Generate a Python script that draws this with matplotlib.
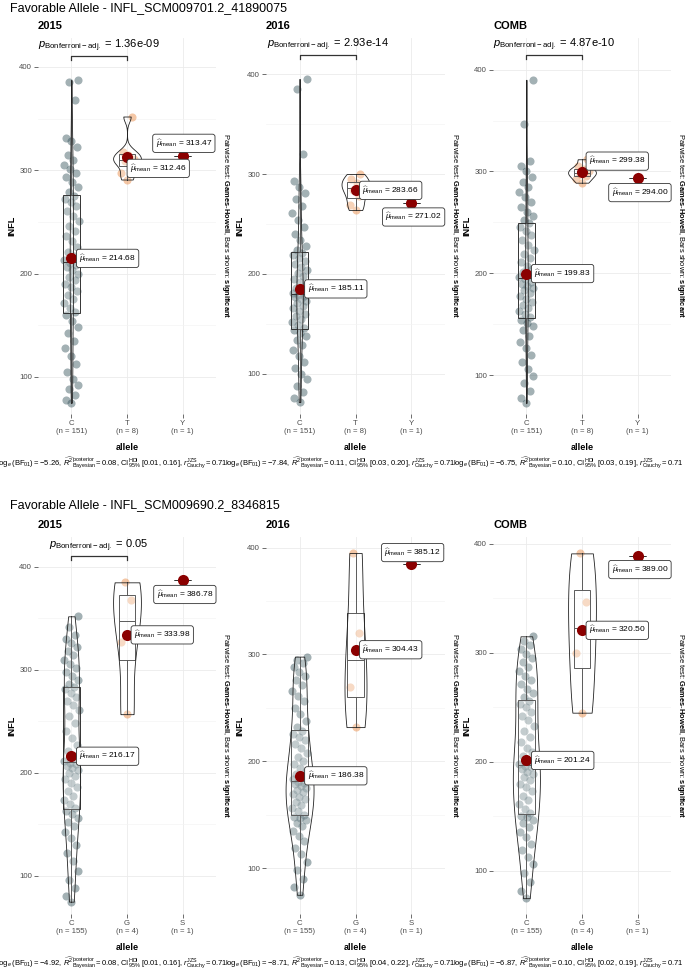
import numpy as np
import matplotlib
matplotlib.use("Agg")
import matplotlib.pyplot as plt

plt.rcParams['font.family'] = ['Liberation Sans', 'DejaVu Sans']
plt.rcParams['mathtext.fontset'] = 'custom'
plt.rcParams['mathtext.rm'] = 'Liberation Sans'
plt.rcParams['mathtext.it'] = 'Liberation Sans:italic'
plt.rcParams['mathtext.bf'] = 'Liberation Sans:bold'
plt.rcParams['mathtext.sf'] = 'Liberation Sans'

# ---------------- DATA ----------------
years = ["2015", "2016", "COMB"]

# marker 1
m1_title = "Favorable Allele - INFL_SCM009701.2_41890075"
m1_alleles = ["C", "T", "Y"]
m1_n = [151, 8, 1]
m1_2015_C = [75, 78, 82, 88, 92, 98, 105, 112, 120, 128, 135, 142, 148, 154, 160,
             163, 167, 171, 175, 179, 183, 187, 190, 194, 197, 200, 203, 206, 208, 210,
             213, 217, 221, 226, 231, 236, 241, 246, 251, 256, 261, 265, 269, 272, 275,
             279, 284, 289, 293, 297, 301, 305, 310, 315, 322, 328, 331, 368, 385, 387]
m1_2015_T = [291, 297, 306, 309, 311, 315, 318, 352]
m1_2015_Y = [313.47]
m1_2016_C = [72, 76, 82, 88, 95, 100, 106, 112, 118, 124, 129, 134, 138, 141, 144,
             146, 149, 152, 155, 158, 160, 163, 166, 168, 171, 173, 175, 177, 178, 179,
             181, 183, 186, 189, 192, 195, 198, 201, 204, 207, 210, 213, 216, 219, 221,
             224, 228, 234, 240, 247, 254, 261, 268, 275, 281, 287, 293, 320, 385, 395]
m1_2016_T = [264, 269, 278, 284, 288, 291, 295, 300]
m1_2016_Y = [271.02]
m1_comb_C = [73, 78, 85, 92, 99, 106, 113, 120, 127, 133, 139, 144, 148, 151, 154,
             157, 160, 163, 166, 169, 172, 175, 178, 181, 184, 186, 188, 190, 192, 194,
             196, 198, 201, 204, 207, 211, 215, 219, 223, 228, 233, 238, 242, 246, 249,
             252, 256, 260, 265, 270, 275, 280, 285, 290, 295, 300, 305, 310, 347, 390]
m1_comb_T = [289, 293, 296, 298, 300, 302, 305, 312]
m1_comb_Y = [294.00]
m1_means = [[214.68, 312.46, 313.47], [185.11, 283.66, 271.02], [199.83, 299.38, 294.00]]
m1_p = ["1.36e-09", "2.93e-14", "4.87e-10"]
m1_logbf = [-5.26, -7.84, -6.75]
m1_r2 = [0.08, 0.11, 0.10]
m1_ci = [(0.01, 0.16), (0.03, 0.20), (0.03, 0.19)]
m1_rcauchy = [0.71, 0.71, 0.71]

# marker 2
m2_title = "Favorable Allele - INFL_SCM009690.2_8346815"
m2_alleles = ["C", "G", "S"]
m2_n = [155, 4, 1]
m2_2015_C = [75, 80, 88, 96, 105, 114, 122, 130, 137, 143, 148, 152, 156, 160, 163,
             166, 170, 174, 178, 182, 186, 190, 194, 197, 200, 203, 205, 207, 209, 210,
             212, 216, 221, 227, 234, 241, 248, 255, 261, 266, 270, 274, 278, 281, 283,
             286, 290, 294, 298, 302, 306, 310, 314, 318, 322, 326, 330, 334, 342, 352]
m2_2015_G = [257, 327, 368, 385]
m2_2015_S = [386.78]
m2_2016_C = [75, 82, 90, 98, 106, 113, 119, 125, 130, 135, 139, 142, 145, 147, 148,
             150, 153, 156, 159, 162, 165, 167, 169, 171, 173, 175, 177, 179, 180, 181,
             183, 185, 188, 191, 194, 197, 200, 204, 208, 212, 216, 220, 223, 226, 228,
             232, 238, 244, 250, 256, 261, 266, 271, 276, 280, 284, 288, 292, 295, 298]
m2_2016_G = [232, 270, 320, 395]
m2_2016_S = [385.12]
m2_comb_C = [75, 82, 90, 98, 106, 113, 119, 125, 131, 136, 140, 144, 147, 149, 150,
             153, 157, 161, 165, 169, 173, 177, 180, 183, 186, 189, 191, 193, 195, 196,
             198, 201, 205, 209, 213, 218, 223, 228, 233, 238, 242, 246, 250, 253, 256,
             259, 263, 267, 271, 275, 279, 283, 287, 291, 295, 299, 303, 307, 311, 315]
m2_comb_G = [245, 300, 346, 391]
m2_comb_S = [389.00]
m2_means = [[216.17, 333.98, 386.78], [186.38, 304.43, 385.12], [201.24, 320.50, 389.00]]
m2_p = ["0.05", None, None]
m2_logbf = [-4.92, -8.71, -6.87]
m2_r2 = [0.08, 0.13, 0.10]
m2_ci = [(0.01, 0.16), (0.04, 0.22), (0.02, 0.19)]
m2_rcauchy = [0.71, 0.71, 0.71]

# ---------------- LAYOUT ----------------
W, H = 685, 969
fig = plt.figure(figsize=(W / 100, H / 100), dpi=100)

col_x = [(38, 216), (266, 445), (493, 671)]
rows = [(38, 414), (537, 914)]
ylims = [[(64, 428), (60, 436), (62, 431)],
         [(63, 429), (57, 410), (60.5, 406)]]
# label offsets in pixels (from mean dot to label text)
lab_offs = [[[(8, 0), (3, -11), (-27, 13)], [(8, 0), (7, 0), (-26, -14)], [(8, 0), (7, 11), (-26, -15)]],
            [[(8, 0), (7, 0), (-26, -14)], [(8, 0), (7, 0), (-27, 11)], [(8, 0), (7, 0), (-26, -14)]]]
pt_cols = ['#34525a', '#e8843a', '#3a8a5a']
edge = '#333333'


def pix_axes(x0, x1, y0, y1):
    return fig.add_axes([x0 / W, 1 - y1 / H, (x1 - x0) / W, (y1 - y0) / H])


def kde(v, grid):
    v = np.asarray(v, float)
    sd = v.std(ddof=1)
    iqr = np.subtract(*np.percentile(v, [75, 25]))
    s = min(sd, iqr / 1.34) if iqr > 0 else sd
    bw = 0.9 * s * len(v) ** -0.2
    z = (grid[:, None] - v[None, :]) / bw
    return np.exp(-0.5 * z ** 2).sum(1) / (len(v) * bw * np.sqrt(2 * np.pi))


def draw_panel(ax, groups, alleles, ns, means, ylim, pval, offs, name, hpx, wpx):
    pos = np.arange(1, len(groups) + 1)
    ax.set_xlim(0.4, 3.6)
    ax.set_ylim(*ylim)
    ppu = hpx / (ylim[1] - ylim[0])
    for s in ax.spines.values():
        s.set_visible(False)
    ax.set_yticks([100, 200, 300, 400])
    ax.set_yticks([150, 250, 350], minor=True)
    ax.grid(True, which='major', color='#ebebeb', lw=0.6)
    ax.grid(True, which='minor', axis='y', color='#f3f3f3', lw=0.45)
    ax.set_axisbelow(True)
    ax.tick_params(which='major', length=2.75, width=0.5, color=edge,
                   labelsize=5.6, labelcolor='#4d4d4d', pad=1.5)
    ax.tick_params(which='minor', length=0)
    ax.set_xticks(pos)
    ax.set_xticklabels([f"{a}\n(n = {n})" for a, n in zip(alleles, ns)], linespacing=1.25)

    # jittered points
    for i, g in enumerate(groups):
        k = np.arange(len(g))
        jit = ((k * 0.618034 + 0.5) % 1 - 0.5) * 0.27
        ax.scatter(pos[i] + jit, g, s=34, color=pt_cols[i], alpha=0.45, lw=0, zorder=2)

    # boxes
    ax.boxplot(groups, positions=pos, widths=0.3, whis=1.5, showfliers=False,
               showcaps=False, patch_artist=True, manage_ticks=False,
               boxprops=dict(facecolor=(1, 1, 1, 0.2), edgecolor=edge, lw=0.7),
               medianprops=dict(color=edge, lw=0.7),
               whiskerprops=dict(color=edge, lw=0.7), zorder=3)

    # violins (area-scaled, trimmed)
    vio = []
    for i, g in enumerate(groups):
        if len(g) > 1:
            grid = np.linspace(min(g), max(g), 256)
            vio.append((pos[i], grid, kde(g, grid)))
    mx = max(d.max() for _, _, d in vio)
    for p, grid, d in vio:
        hw = d / mx * 0.25
        ax.fill_betweenx(grid, p - hw, p + hw, facecolor=(1, 1, 1, 0.2),
                         edgecolor='#222222', lw=0.6, zorder=4)

    # means + labels
    ax.scatter(pos, means, s=64, color='#8b0000', lw=0, zorder=5)
    for i, m in enumerate(means):
        ax.annotate(r"$\widehat{\mu}_{\mathrm{mean}}$ = " + f"{m:.2f}", xy=(pos[i], m),
                    xytext=offs[i], textcoords='offset pixels', ha='left', va='center',
                    fontsize=6, zorder=6,
                    bbox=dict(boxstyle='round,pad=0.35,rounding_size=0.3', fc='white',
                              ec=edge, lw=0.6))

    # significance bracket
    if pval:
        yb = max(max(g) for g in groups) + 24
        t = 4 / ppu
        ax.plot([1, 1, 2, 2], [yb - t, yb, yb, yb - t], color=edge, lw=0.9, zorder=6)
        ax.annotate(r"$p_{\mathrm{Bonferroni-adj.}}$ = " + pval, xy=(1.5, yb),
                    xytext=(0, 2), textcoords='offset pixels', ha='center', va='bottom',
                    fontsize=8)

    ax.text(0, 1 + 12 / hpx, name, transform=ax.transAxes, ha='left', va='center',
            fontsize=8, fontweight='bold')
    ax.text(-26 / wpx, 0.5, "INFL", transform=ax.transAxes, rotation=90, ha='center',
            va='center', fontsize=6.6, fontweight='bold')
    ax.text(0.5, -33 / hpx, "allele", transform=ax.transAxes, ha='center', va='center',
            fontsize=6.6, fontweight='bold')
    ax.text(1 + 4 / wpx, 0.5,
            r"Pairwise test: $\mathbf{Games}$-$\mathbf{Howell}$, Bars shown: $\mathbf{significant}$",
            transform=ax.transAxes, rotation=270, ha='left', va='center', fontsize=5.4)


def caption(bf, r2, ci, rc):
    return (r"$\log_e(\mathrm{BF}_{01}) = %.2f$, "
            r"$\widehat{R^2}_{\mathrm{Bayesian}}^{\mathrm{posterior}} = %.2f$, "
            r"$\mathrm{CI}_{95\%%}^{\mathrm{HDI}}$ [%.2f, %.2f], "
            r"$r_{\mathrm{Cauchy}}^{\mathrm{JZS}} = %.2f$" % (bf, r2, ci[0], ci[1], rc))


markers = [
    (m1_title, m1_alleles, m1_n,
     [[m1_2015_C, m1_2015_T, m1_2015_Y], [m1_2016_C, m1_2016_T, m1_2016_Y],
      [m1_comb_C, m1_comb_T, m1_comb_Y]],
     m1_means, m1_p, m1_logbf, m1_r2, m1_ci, m1_rcauchy),
    (m2_title, m2_alleles, m2_n,
     [[m2_2015_C, m2_2015_G, m2_2015_S], [m2_2016_C, m2_2016_G, m2_2016_S],
      [m2_comb_C, m2_comb_G, m2_comb_S]],
     m2_means, m2_p, m2_logbf, m2_r2, m2_ci, m2_rcauchy),
]

title_y = [8, 505]
cap_y = [463, 963]
cap_texts = []
for r, (title, alleles, ns, groups, means, pvals, bfs, r2s, cis, rcs) in enumerate(markers):
    fig.text(10 / W, 1 - title_y[r] / H, title, fontsize=9, ha='left', va='center')
    y0, y1 = rows[r]
    row_caps = []
    for c in range(3):
        ax = pix_axes(col_x[c][0], col_x[c][1], y0, y1)
        draw_panel(ax, groups[c], alleles, ns, means[c], ylims[r][c], pvals[c],
                   lab_offs[r][c], years[c], y1 - y0, col_x[c][1] - col_x[c][0])
        row_caps.append(fig.text(0, 1 - cap_y[r] / H, caption(bfs[c], r2s[c], cis[c], rcs[c]),
                                 fontsize=5.5, ha='left', va='center'))
    cap_texts.append(row_caps)

# chain the captions right to left, like the overlapping ggplot captions
fig.canvas.draw()
rend = fig.canvas.get_renderer()
for row_caps in cap_texts:
    x_end = 684
    for t in reversed(row_caps):
        w = t.get_window_extent(rend).width
        x0 = x_end - w
        t.set_x(x0 / W)
        x_end = x0 + 3

fig.savefig("out.png", dpi=100)
